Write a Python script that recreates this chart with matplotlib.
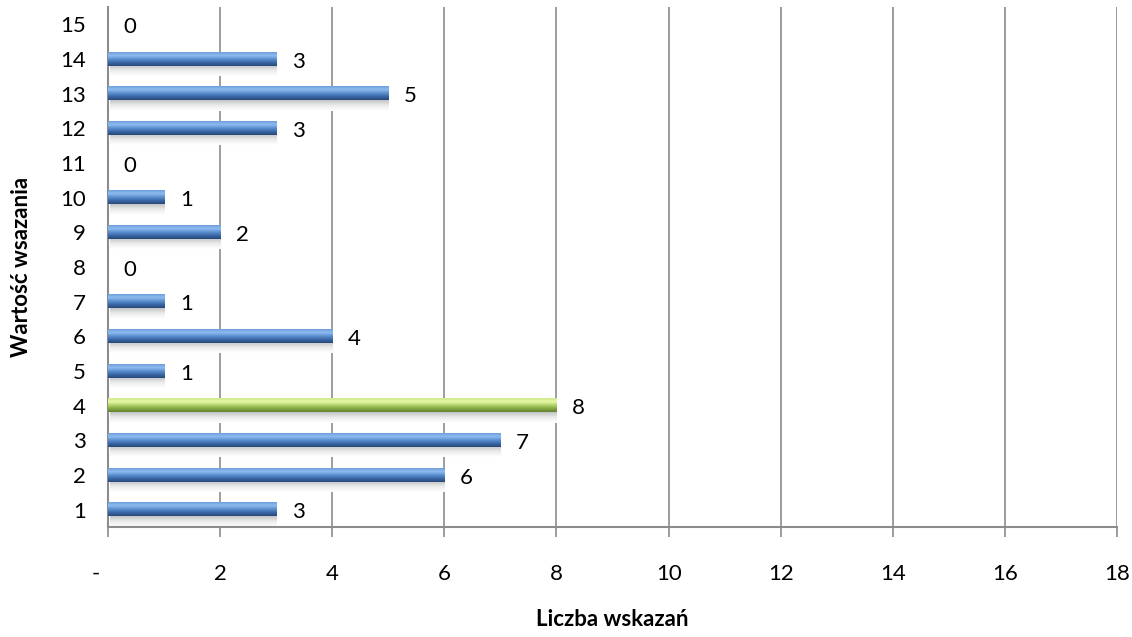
import numpy as np
import matplotlib
matplotlib.use("Agg")
import matplotlib.pyplot as plt
from matplotlib.colors import LinearSegmentedColormap

# -------------------------------------------------------------------------------------
# Data
categories = [str(i) for i in range(1, 16)]
counts = [3, 6, 7, 8, 1, 4, 1, 0, 2, 1, 0, 3, 5, 3, 0]
highlight = '4'
x_ticks = [0, 2, 4, 6, 8, 10, 12, 14, 16, 18]
x_tick_labels = ['-    ', '2', '4', '6', '8', '10', '12', '14', '16', '18']
# -------------------------------------------------------------------------------------

plt.rcParams['font.family'] = ['Lato', 'DejaVu Sans']

blue_cmap = LinearSegmentedColormap.from_list(
    'blue', ['#27497a', '#3b67a6', '#5b8fd0', '#8ebbef', '#6f9fdc'])
green_cmap = LinearSegmentedColormap.from_list(
    'green', ['#61802c', '#86a945', '#b3d46c', '#e8f8a8', '#cde98a'])
shadow_cmap = LinearSegmentedColormap.from_list('shadow', ['#ffffff', '#ececec', '#c4c4c4'])

fig = plt.figure(figsize=(11.32, 6.37), dpi=100)
ax = fig.add_axes([0.0954, 0.1727, 0.8914, 0.8163])

bar_h = 0.38
grad = np.linspace(0, 1, 64).reshape(-1, 1)
shadow = np.linspace(0, 1, 32).reshape(-1, 1)

for i, (cat, val) in enumerate(zip(categories, counts)):
    y = i
    if val > 0:
        # soft shadow below the bar
        ax.imshow(shadow, extent=(0.03, val, y - bar_h / 2 - 0.3, y - bar_h / 2),
                  cmap=shadow_cmap, aspect='auto', origin='lower', zorder=2,
                  interpolation='bilinear')
        cmap = green_cmap if cat == highlight else blue_cmap
        ax.imshow(grad, extent=(0, val, y - bar_h / 2, y + bar_h / 2), cmap=cmap,
                  aspect='auto', origin='lower', zorder=3, interpolation='bilinear')
    ax.text(val + 0.28, y - 0.08, str(val), va='center', ha='left', fontsize=16, zorder=4)

ax.set_xlim(0, 18)
ax.set_ylim(-0.5, len(categories) - 0.5)
ax.set_yticks(range(len(categories)))
ax.set_yticklabels(categories, fontsize=16)
ax.set_xticks(x_ticks)
ax.set_xticklabels(x_tick_labels, fontsize=16)

ax.grid(axis='x', color='#8c8c8c', linewidth=1.2, zorder=1)
ax.set_axisbelow(True)
for side in ['top', 'right']:
    ax.spines[side].set_visible(False)
for side in ['left', 'bottom']:
    ax.spines[side].set_color('#8c8c8c')
    ax.spines[side].set_linewidth(1.5)
ax.tick_params(axis='x', length=7, color='#8c8c8c', width=1.2, pad=20)
ax.tick_params(axis='y', length=0, pad=16)

ax.set_xlabel('Liczba wskazań', fontsize=16, fontweight='bold', labelpad=18)
ax.set_ylabel('Wartość wsazania', fontsize=16, fontweight='bold', labelpad=20)

fig.savefig('out.png', dpi=100)
